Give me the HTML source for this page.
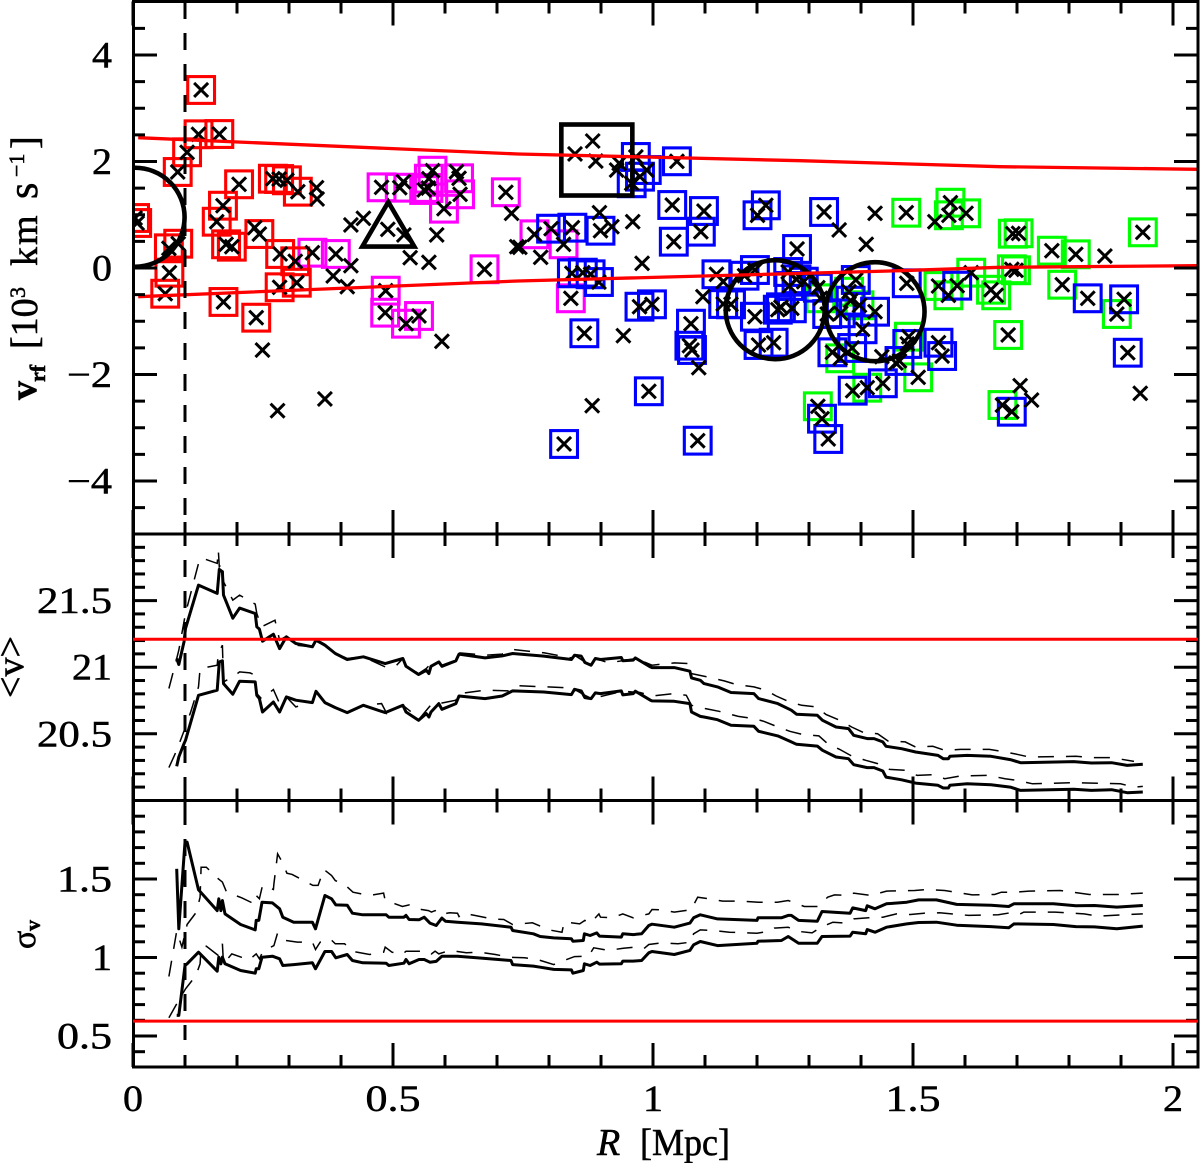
<!DOCTYPE html>
<html lang="en">
<head>
<meta charset="utf-8">
<title>Velocity versus radius</title>
<style>
html,body{margin:0;padding:0;background:#fff;}
svg{display:block;}
.tick-label{font-family:"Liberation Serif",serif;font-size:37px;fill:#000;stroke:#000;stroke-width:.5px;}
.axis-title{font-family:"Liberation Serif",serif;font-size:38px;fill:#000;stroke:#000;stroke-width:.55px;}
</style>
</head>
<body>
<svg id="chart" xmlns="http://www.w3.org/2000/svg" width="1200" height="1163" viewBox="0 0 1200 1163">
  <defs>
    <clipPath id="top-clip"><rect x="133" y="0" width="1065" height="534"></rect></clipPath>
  </defs>
  <rect x="0" y="0" width="1200" height="1163" fill="#fff"></rect>
  <g id="scatter-layer" clip-path="url(#top-clip)"></g>
  <g id="line-layer"></g>
  <g id="axis-layer"></g>
  <g id="reference-layer"></g>
  <text class="axis-title" transform="rotate(-90)"><tspan x="-400" y="36" font-weight="bold">v</tspan><tspan x="-382" y="45" font-size="22" font-weight="bold">rf</tspan><tspan x="-349" y="37">[10</tspan><tspan x="-298" y="25" font-size="22">3</tspan><tspan x="-266" y="37" letter-spacing="2">km</tspan><tspan x="-199" y="37" font-size="42">s</tspan><tspan x="-177" y="24" font-size="22">−1</tspan><tspan x="-149" y="37">]</tspan></text>
  <text class="axis-title" transform="rotate(-90)" x="-667" y="23" text-anchor="middle">&lt;v&gt;</text>
  <text class="axis-title" transform="rotate(-90)"><tspan x="-949" y="35" font-size="34">σ</tspan><tspan x="-931" y="40" font-size="22" font-weight="bold">v</tspan></text>
  <text class="axis-title" y="1155"><tspan x="597" font-style="italic" font-size="38">R</tspan><tspan x="640" textLength="90" lengthAdjust="spacingAndGlyphs">[Mpc]</tspan></text>
</svg>
<script>
// ---- scatter data: R [Mpc], v_rf [10^3 km/s] ----
const redR = [.131,.126,.166,.104,.086,.204,.269,.281,.296,.317,.173,.161,.008,.004,.069,.087,.070,.062,.174,.237,.179,.190,.243,.283,.312,.315,.282];
const redV = [3.343,2.511,2.516,2.173,1.803,1.572,1.677,1.671,1.647,1.433,1.170,.869,.845,.939,.370,.456,-.088,-.483,-.638,-.933,.445,.400,.638,.263,.126,-.276,-.362];
const magentaR = [.478,.513,.576,.569,.560,.568,.627,.629,.598,.717,.345,.390,.486,.485,.525,.550,.676,.772,.828,.842];
const magentaV = [1.515,1.508,1.827,1.677,1.465,1.502,1.685,1.384,1.114,1.422,.287,.263,-.426,-.839,-1.046,-.901,-.024,.633,.445,-.569];
const blueR = [.967,1.046,.988,.975,.959,1.037,1.098,1.040,1.092,1.217,1.201,1.329,1.277,.899,.845,.804,.844,.865,.880,.896,.974,.998,.868,.992,.829,1.086,1.073,1.070,1.075,1.122,1.150,1.135,1.176,1.196,1.196,1.203,1.232,1.260,1.276,1.262,1.290,1.317,1.240,1.246,1.267,1.335,1.488,1.585,1.836,1.906,1.913,1.690,1.489,1.549,1.556,1.474,1.442,1.384,1.325,1.337,1.345,1.383,1.403,1.390,1.427,1.380,1.361];
const blueV = [2.085,2.004,1.840,1.715,1.591,1.183,1.070,.494,.682,1.177,.990,1.052,.357,.700,.757,.738,-.100,-.088,-.118,-.263,-.727,-.682,-1.226,-2.315,-3.305,-3.243,-1.046,-1.459,-1.540,-.118,-.682,-.676,-.145,-.038,-.915,-1.446,-1.403,-.075,-.212,-.338,-.257,-.370,-.783,-.738,-.757,-.864,-.287,-.332,-.569,-.588,-1.591,-2.699,-1.427,-1.403,-1.653,-1.746,-2.165,-2.304,-2.830,-3.211,-1.583,-1.502,-1.151,-.225,-.821,-.614,-.851];
const greenR = [1.322,1.487,1.572,1.569,1.602,1.692,1.703,1.767,1.813,1.942,1.612,1.549,1.568,1.690,1.698,1.650,1.660,1.787,1.892,1.683,1.672,1.492,1.510,1.412,1.317,1.360,1.397,1.377];
const greenV = [-.569,1.038,1.226,.990,1.027,.644,.652,.325,.257,.670,-.088,-.338,-.513,-.024,-.043,-.408,-.513,-.314,-.864,-1.258,-2.573,-1.290,-2.053,-2.248,-2.597,-1.696,-.700,-.445];
const plainR = [.249,.278,.369,.594,.353,.354,.419,.443,.521,.490,.584,.533,.569,.385,.412,.419,.520,.622,.728,.738,.234,.850,.884,.890,.935,1.427,1.358,1.410,1.542,.961,.897,.921,.744,.784,.979,1.096,1.135,.943,.883,1.088,1.706,1.728,1.937,1.869,1.440,1.467,.930];
const plainV = [-1.540,-2.680,-2.460,-1.377,1.508,1.296,.808,.933,.620,.727,.620,.193,.107,-.150,-.351,.043,1.621,1.808,1.027,.400,.757,2.141,2.385,2.009,1.966,1.027,.714,.445,.869,.869,1.038,.776,.389,.201,.088,-.539,-.257,-1.271,-2.586,-1.872,-2.210,-2.479,-2.353,.225,-1.666,-1.784,1.840];

// ---- group markers ----
const circleR = [.004,1.235,1.427];
const circleV = [.953,-.783,-.821];
const bigSquareR = .892;
const bigSquareV = 2.028;
const triangleR = .491;
const triangleV = .45;

// ---- red caustic curves ----
const upperCurveR = [.01,.74,1.283,1.667,2.048];
const upperCurveV = [2.447,2.14,2.015,1.902,1.854];
const lowerCurveR = [.01,.74,1.475,1.667,2.048];
const lowerCurveV = [-.539,-.244,-.05,.013,.043];
const meanReference = 21.21;
const sigmaReference = .595;
const virialRadius = .1;

// ---- running mean panel ----
const meanR = [.084,.088,.098,.101,.126,.162,.166,.172,.174,.192,.205,.235,.238,.243,.249,.270,.282,.295,.313,.345,.352,.369,.389,.412,.443,.485,.519,.525,.549,.564,.569,.573,.588,.594,.621,.627,.677,.710,.730,.790,.843,.849,.862,.869,.881,.889,.899,.939,.942,.962,.966,.995,.998,1.041,1.071,1.074,1.091,1.098,1.124,1.150,1.194,1.203,1.240,1.266,1.276,1.316,1.326,1.352,1.376,1.386,1.412,1.425,1.442,1.448,1.478,1.505,1.548,1.558,1.568,1.571,1.604,1.650,1.687,1.707,1.809,1.843,1.882,1.912,1.942];
const meanUpper = [21.065,21.02,21.19,21.29,21.616,21.554,21.734,21.717,21.541,21.368,21.444,21.403,21.303,21.286,21.195,21.248,21.14,21.228,21.178,21.153,21.203,21.165,21.103,21.058,21.078,21.027,21.065,21.007,20.945,20.977,20.952,21.007,21.04,21.007,21.048,21.098,21.07,21.085,21.103,21.083,21.058,21.09,21.083,21.035,21.015,21.065,21.058,21.073,21.048,21.053,21.07,21.002,20.997,20.997,20.97,20.92,20.902,20.877,20.852,20.81,20.802,20.764,20.727,20.677,20.647,20.639,20.601,20.551,20.539,20.489,20.464,20.464,20.439,20.406,20.388,20.363,20.338,20.313,20.313,20.331,20.338,20.331,20.306,20.283,20.291,20.281,20.283,20.263,20.271];
const meanLower = [20.256,20.326,20.426,20.451,20.789,20.827,21.04,21.048,20.877,20.797,20.895,20.89,20.789,20.764,20.664,20.739,20.664,20.777,20.752,20.734,20.819,20.734,20.697,20.659,20.714,20.659,20.714,20.664,20.601,20.652,20.626,20.664,20.727,20.684,20.727,20.784,20.764,20.784,20.822,20.814,20.794,20.834,20.822,20.772,20.764,20.807,20.802,20.822,20.792,20.802,20.82,20.752,20.747,20.744,20.727,20.664,20.631,20.626,20.606,20.564,20.556,20.519,20.484,20.439,20.421,20.408,20.376,20.326,20.313,20.268,20.246,20.246,20.221,20.175,20.155,20.13,20.113,20.093,20.093,20.113,20.125,20.118,20.1,20.075,20.083,20.075,20.08,20.058,20.063];
const meanDashUpperR = [.069,.084,.088,.101,.126,.131,.162,.164,.166,.172,.174,.192,.205,.225,.235,.238,.247,.273,.282,.295,.313,.345,.352,.369,.389,.412,.443,.485,.505,.519,.525,.549,.564,.573,.588,.594,.621,.627,.677,.710,.730,.790,.843,.849,.869,.881,.889,.915,.968,.975,.998,1.041,1.071,1.074,1.104,1.137,1.160,1.194,1.217,1.237,1.263,1.286,1.313,1.333,1.359,1.382,1.405,1.432,1.452,1.485,1.505,1.538,1.561,1.591,1.647,1.677,1.700,1.723,1.813,1.843,1.882,1.925];
const meanDashUpper = [20.84,21.065,21.128,21.403,21.779,21.822,21.779,21.88,21.754,21.787,21.642,21.504,21.541,21.496,21.474,21.403,21.303,21.353,21.203,21.233,21.165,21.153,21.208,21.173,21.108,21.065,21.078,21.002,21.007,21.065,21.015,20.952,20.99,21.027,21.045,21.015,21.053,21.108,21.09,21.098,21.133,21.108,21.07,21.09,21.04,21.015,21.065,21.032,21.065,21.053,21.015,21.032,21.027,20.952,20.927,20.897,20.87,20.852,20.827,20.784,20.739,20.714,20.702,20.644,20.601,20.551,20.509,20.501,20.446,20.439,20.401,20.406,20.376,20.383,20.383,20.363,20.346,20.326,20.331,20.321,20.321,20.293];
const meanDashLowerR = [.069,.084,.101,.111,.126,.129,.162,.164,.172,.174,.192,.205,.225,.235,.238,.247,.270,.282,.295,.313,.345,.352,.369,.389,.412,.443,.478,.488,.519,.551,.574,.588,.621,.627,.677,.723,.743,.829,.849,.869,.882,.909,.942,.975,.998,1.041,1.064,1.074,1.101,1.127,1.164,1.194,1.213,1.237,1.263,1.286,1.319,1.336,1.359,1.382,1.409,1.432,1.455,1.485,1.508,1.538,1.561,1.591,1.644,1.677,1.700,1.730,1.809,1.899,1.925,1.942];
const meanDashLower = [20.246,20.376,20.551,20.664,20.852,20.99,21.015,21.103,21.165,20.89,20.927,20.965,20.957,20.94,20.802,20.764,20.832,20.727,20.777,20.702,20.739,20.819,20.734,20.697,20.664,20.714,20.727,20.652,20.714,20.614,20.722,20.727,20.752,20.802,20.827,20.822,20.86,20.847,20.834,20.789,20.764,20.789,20.82,20.81,20.784,20.802,20.789,20.714,20.689,20.669,20.631,20.614,20.594,20.556,20.519,20.496,20.484,20.426,20.383,20.333,20.301,20.276,20.233,20.226,20.188,20.193,20.163,20.183,20.188,20.163,20.15,20.125,20.133,20.125,20.1,20.105];

// ---- running dispersion panel ----
const sigmaR = [.084,.088,.100,.104,.126,.162,.165,.169,.172,.177,.207,.235,.237,.242,.248,.268,.282,.288,.309,.345,.351,.369,.382,.390,.412,.422,.442,.487,.492,.521,.525,.531,.550,.560,.571,.583,.594,.601,.624,.670,.727,.730,.770,.783,.809,.843,.846,.866,.868,.879,.892,.897,.939,.942,.962,.978,.992,.998,1.041,1.071,1.078,1.091,1.124,1.200,1.202,1.247,1.260,1.266,1.280,1.316,1.325,1.379,1.384,1.409,1.412,1.427,1.449,1.488,1.511,1.545,1.584,1.650,1.684,1.694,1.770,1.813,1.849,1.892,1.942];
const sigmaUpper = [1.565,1.183,1.735,1.735,1.431,1.299,1.374,1.299,1.363,1.278,1.21,1.176,1.236,1.236,1.352,1.348,1.31,1.257,1.225,1.225,1.183,1.395,1.374,1.335,1.333,1.282,1.272,1.272,1.257,1.257,1.268,1.242,1.24,1.257,1.219,1.204,1.251,1.231,1.225,1.214,1.193,1.172,1.151,1.134,1.125,1.119,1.104,1.108,1.151,1.14,1.157,1.136,1.13,1.151,1.146,1.151,1.204,1.212,1.193,1.219,1.253,1.272,1.246,1.236,1.253,1.253,1.268,1.268,1.236,1.231,1.293,1.282,1.316,1.299,1.329,1.31,1.342,1.352,1.367,1.367,1.338,1.333,1.325,1.342,1.342,1.329,1.331,1.321,1.331];
const sigmaLower = [.631,.631,.949,.96,1.034,.913,1.002,.96,1.002,.96,.917,.9,.928,.928,1.002,1.008,.992,.949,.955,.966,.928,1.038,1.038,.998,1.019,.981,.966,.964,.949,.964,.987,.96,.987,.987,.97,.975,1.008,1.008,1.008,.996,.981,.955,.945,.938,.924,.921,.9,.917,.96,.949,.97,.958,.96,.977,.977,.981,1.03,1.038,1.019,1.045,1.081,1.102,1.076,1.091,1.104,1.108,1.134,1.121,1.091,1.091,1.134,1.136,1.161,1.151,1.178,1.161,1.193,1.214,1.223,1.225,1.206,1.197,1.189,1.214,1.21,1.197,1.195,1.183,1.2];
const sigmaDashUpperR = [.069,.084,.094,.104,.122,.129,.131,.141,.164,.172,.180,.209,.233,.237,.243,.249,.270,.271,.278,.288,.296,.306,.346,.356,.367,.382,.389,.407,.423,.455,.482,.485,.496,.518,.531,.546,.568,.574,.581,.588,.609,.624,.627,.634,.657,.690,.713,.730,.743,.768,.800,.825,.829,.835,.859,.869,.880,.896,.899,.922,.942,.962,.972,.992,.998,1.015,1.041,1.073,1.086,1.107,1.134,1.164,1.203,1.239,1.260,1.291,1.317,1.336,1.349,1.378,1.386,1.419,1.449,1.503,1.528,1.561,1.614,1.657,1.670,1.694,1.723,1.783,1.839,1.896,1.942];
const sigmaDashUpper = [.879,1.168,1.066,1.21,1.289,1.384,1.575,1.575,1.501,1.48,1.416,1.38,1.342,1.395,1.374,1.459,1.433,1.469,1.66,1.601,1.537,1.529,1.459,1.459,1.561,1.522,1.49,1.465,1.416,1.395,1.41,1.363,1.352,1.325,1.335,1.31,1.299,1.289,1.299,1.274,1.285,1.282,1.261,1.282,1.268,1.246,1.242,1.21,1.214,1.221,1.176,1.161,1.225,1.225,1.214,1.236,1.219,1.278,1.257,1.253,1.278,1.253,1.263,1.278,1.306,1.304,1.289,1.304,1.384,1.374,1.359,1.359,1.352,1.352,1.363,1.325,1.325,1.384,1.399,1.395,1.41,1.395,1.423,1.427,1.433,1.427,1.399,1.401,1.416,1.416,1.423,1.427,1.401,1.401,1.41];
const sigmaDashLowerR = [.069,.084,.101,.121,.129,.131,.141,.164,.172,.174,.190,.223,.237,.243,.250,.271,.278,.294,.316,.345,.351,.360,.379,.389,.407,.423,.455,.482,.485,.498,.518,.525,.568,.574,.581,.588,.609,.641,.667,.697,.723,.753,.780,.809,.829,.849,.876,.886,.914,.943,.968,.982,.992,1.015,1.048,1.073,1.078,1.091,1.117,1.147,1.200,1.223,1.233,1.260,1.280,1.306,1.323,1.346,1.369,1.386,1.415,1.442,1.468,1.495,1.521,1.551,1.607,1.664,1.687,1.703,1.713,1.773,1.829,1.856,1.912,1.942];
const sigmaDashLower = [.616,.705,.8,.885,.96,1.066,1.072,1.013,1.087,.96,1.023,.985,1.023,.992,1.04,1.076,1.157,1.108,1.098,1.098,1.051,1.098,1.119,1.087,1.087,1.038,1.019,1.034,1.066,1.034,1.019,1.04,1.04,1.023,1.04,1.023,1.045,1.03,1.034,1.019,1.002,.998,.985,.955,.981,1.006,1.008,1.062,1.045,1.059,1.066,1.055,1.083,1.093,1.087,1.098,1.151,1.176,1.172,1.161,1.155,1.166,1.187,1.193,1.166,1.157,1.193,1.225,1.219,1.246,1.253,1.257,1.278,1.274,1.282,1.285,1.268,1.272,1.285,1.272,1.289,1.289,1.278,1.263,1.274,1.278];

// ---- tick values and labels ----
const xMajorTicks = [0,.5,1,1.5,2];
const xMinorTicks = [.1,.2,.3,.4,.6,.7,.8,.9,1.1,1.2,1.3,1.4,1.6,1.7,1.8,1.9];
const xTickLabels = ["0","0.5","1","1.5","2"];
const topMajorTicks = [-4,-2,0,2,4];
const topMinorTicks = [-4.5,-3.5,-3,-2.5,-1.5,-1,-.5,.5,1,1.5,2.5,3,3.5,4.5];
const topTickLabels = ["−4","−2","0","2","4"];
const meanMajorTicks = [20.5,21,21.5];
const meanMinorTicks = [20.1,20.2,20.3,20.4,20.6,20.7,20.8,20.9,21.1,21.2,21.3,21.4,21.6,21.7,21.8,21.9];
const meanTickLabels = ["20.5","21","21.5"];
const sigmaMajorTicks = [.5,1,1.5];
const sigmaMinorTicks = [.4,.6,.7,.8,.9,1.1,1.2,1.3,1.4,1.6,1.7,1.8,1.9];
const sigmaTickLabels = ["0.5","1","1.5"];

// ---- axis functions ----
const xScale = r => 133 + 520 * r;
const yTop = v => 268 - 53.25 * v;
const yMean = m => 534 + (22 - m) * 133.2;
const ySigma = s => 800.5 + (2 - s) * 157;

const NS = 'http://www.w3.org/2000/svg';
const scatterLayer = document.getElementById('scatter-layer');
const lineLayer = document.getElementById('line-layer');
const axisLayer = document.getElementById('axis-layer');
const referenceLayer = document.getElementById('reference-layer');

function make(parent, tag, attrs) {
  const node = document.createElementNS(NS, tag);
  for (const key in attrs) node.setAttribute(key, attrs[key]);
  parent.appendChild(node);
  return node;
}
function pathOf(xs, ys, xf, yf) {
  let d = '';
  const n = Math.min(xs.length, ys.length);
  for (let i = 0; i < n; i++) d += (i ? 'L' : 'M') + xf(xs[i]).toFixed(1) + ' ' + yf(ys[i]).toFixed(1);
  return d;
}
function drawCross(r, v) {
  const x = xScale(r), y = yTop(v);
  const el = make(scatterLayer, 'path', {d: 'M' + (x-7) + ' ' + (y-7) + 'L' + (x+7) + ' ' + (y+7) + 'M' + (x-7) + ' ' + (y+7) + 'L' + (x+7) + ' ' + (y-7), stroke: '#000', 'stroke-width': 3, fill: 'none'});
  
  
}
function drawSquares(rs, vs, color, name) {
  const n = Math.min(rs.length, vs.length);
  for (let i = 0; i < n; i++) {
    const el = make(scatterLayer, 'rect', {x: xScale(rs[i]) - 13.4, y: yTop(vs[i]) - 13.4, width: 26.8, height: 26.8, fill: 'none', stroke: color, 'stroke-width': 3.1});
    
    
  }
}
function drawCrosses(rs, vs) {
  const n = Math.min(rs.length, vs.length);
  for (let i = 0; i < n; i++) drawCross(rs[i], vs[i]);
}

// scatter marks
drawSquares(greenR, greenV, '#00ff00', 'green-member-square');
drawSquares(magentaR, magentaV, '#ff00ff', 'magenta-member-square');
drawSquares(redR, redV, '#ff0000', 'red-member-square');
drawSquares(blueR, blueV, '#0000ff', 'blue-member-square');
drawCrosses(redR, redV);
drawCrosses(magentaR, magentaV);
drawCrosses(blueR, blueV);
drawCrosses(greenR, greenV);
drawCrosses(plainR, plainV);

// group markers
for (let i = 0; i < circleR.length; i++) {
  const c = make(scatterLayer, 'circle', {cx: xScale(circleR[i]), cy: yTop(circleV[i]), r: 49.5, fill: 'none', stroke: '#000', 'stroke-width': 4.6});
  
  
}
const bigSq = make(scatterLayer, 'rect', {x: xScale(bigSquareR) - 35.5, y: yTop(bigSquareV) - 35.5, width: 71, height: 71, fill: 'none', stroke: '#000', 'stroke-width': 4.6});


const tx = xScale(triangleR), ty = yTop(triangleV);
const tri = make(scatterLayer, 'path', {d: 'M' + tx + ' ' + (ty-42) + 'L' + (tx+26) + ' ' + (ty+2.5) + 'L' + (tx-26) + ' ' + (ty+2.5) + 'Z', fill: 'none', stroke: '#000', 'stroke-width': 4.6, 'stroke-linejoin': 'miter'});



// caustic curves
const upperCurve = make(lineLayer, 'path', {d: pathOf(upperCurveR, upperCurveV, xScale, yTop), fill: 'none', stroke: '#ff0000', 'stroke-width': 3.3});


const lowerCurve = make(lineLayer, 'path', {d: pathOf(lowerCurveR, lowerCurveV, xScale, yTop), fill: 'none', stroke: '#ff0000', 'stroke-width': 3.3});



// profile lines
function solid(xs, ys, yf, name) {
  const el = make(lineLayer, 'path', {d: pathOf(xs, ys, xScale, yf), fill: 'none', stroke: '#000', 'stroke-width': 3, 'stroke-linejoin': 'round'});
  
  
}
function dashed(xs, ys, yf, name) {
  const el = make(lineLayer, 'path', {d: pathOf(xs, ys, xScale, yf), fill: 'none', stroke: '#000', 'stroke-width': 1.5, 'stroke-dasharray': '16 12'});
  
  
}
dashed(meanDashUpperR, meanDashUpper, yMean, 'mean-upper-dashed-line');
dashed(meanDashLowerR, meanDashLower, yMean, 'mean-lower-dashed-line');
solid(meanR, meanUpper, yMean, 'mean-upper-line');
solid(meanR, meanLower, yMean, 'mean-lower-line');
dashed(sigmaDashUpperR, sigmaDashUpper, ySigma, 'dispersion-upper-dashed-line');
dashed(sigmaDashLowerR, sigmaDashLower, ySigma, 'dispersion-lower-dashed-line');
solid(sigmaR, sigmaUpper, ySigma, 'dispersion-upper-line');
solid(sigmaR, sigmaLower, ySigma, 'dispersion-lower-line');

const radiusLine = make(lineLayer, 'line', {x1: xScale(virialRadius), x2: xScale(virialRadius), y1: 2, y2: 1040, stroke: '#000', 'stroke-width': 3, 'stroke-dasharray': '17 14'});



// axes
const panels = [
  {top: 1.5, bottom: 534, yf: yTop, major: topMajorTicks, minor: topMinorTicks, labels: topTickLabels},
  {top: 534, bottom: 800.5, yf: yMean, major: meanMajorTicks, minor: meanMinorTicks, labels: meanTickLabels},
  {top: 800.5, bottom: 1067, yf: ySigma, major: sigmaMajorTicks, minor: sigmaMinorTicks, labels: sigmaTickLabels}
];
function tick(x1, y1, x2, y2) {
  const el = make(axisLayer, 'line', {x1: x1, y1: y1, x2: x2, y2: y2, stroke: '#000', 'stroke-width': 3});
  
  
}
function labelWidth(s) {
  let w = 0;
  for (const ch of s) w += ch === '.' ? 15 : ch === '−' ? 25 : 20;
  return w;
}
panels.forEach(function (p) {
  const frame = make(axisLayer, 'rect', {x: 133.5, y: p.top, width: 1064.5, height: p.bottom - p.top, fill: 'none', stroke: '#000', 'stroke-width': 3});
  
  
  xMajorTicks.forEach(function (t) {
    tick(xScale(t), p.top, xScale(t), p.top + 24);
    tick(xScale(t), p.bottom, xScale(t), p.bottom - 24);
  });
  xMinorTicks.forEach(function (t) {
    tick(xScale(t), p.top, xScale(t), p.top + 12);
    tick(xScale(t), p.bottom, xScale(t), p.bottom - 12);
  });
  p.major.forEach(function (t, i) {
    tick(133, p.yf(t), 157, p.yf(t));
    tick(1198, p.yf(t), 1174, p.yf(t));
    const lab = make(axisLayer, 'text', {x: 112, y: p.yf(t) + 12.5, 'text-anchor': 'end', 'class': 'tick-label', textLength: labelWidth(p.labels[i]), lengthAdjust: 'spacingAndGlyphs'});
    lab.textContent = p.labels[i];
    
    
  });
  p.minor.forEach(function (t) {
    tick(133, p.yf(t), 145, p.yf(t));
    tick(1198, p.yf(t), 1186, p.yf(t));
  });
});
xMajorTicks.forEach(function (t, i) {
  const lab = make(axisLayer, 'text', {x: xScale(t), y: 1111, 'text-anchor': 'middle', 'class': 'tick-label', textLength: labelWidth(xTickLabels[i]), lengthAdjust: 'spacingAndGlyphs'});
  lab.textContent = xTickLabels[i];
  
  
});

// reference lines sit above the axis ticks
const meanRef = make(referenceLayer, 'line', {x1: 133, x2: 1198, y1: yMean(meanReference), y2: yMean(meanReference), stroke: '#ff0000', 'stroke-width': 3});


const sigmaRef = make(referenceLayer, 'line', {x1: 133, x2: 1198, y1: ySigma(sigmaReference), y2: ySigma(sigmaReference), stroke: '#ff0000', 'stroke-width': 3});


</script>
</body>
</html>
